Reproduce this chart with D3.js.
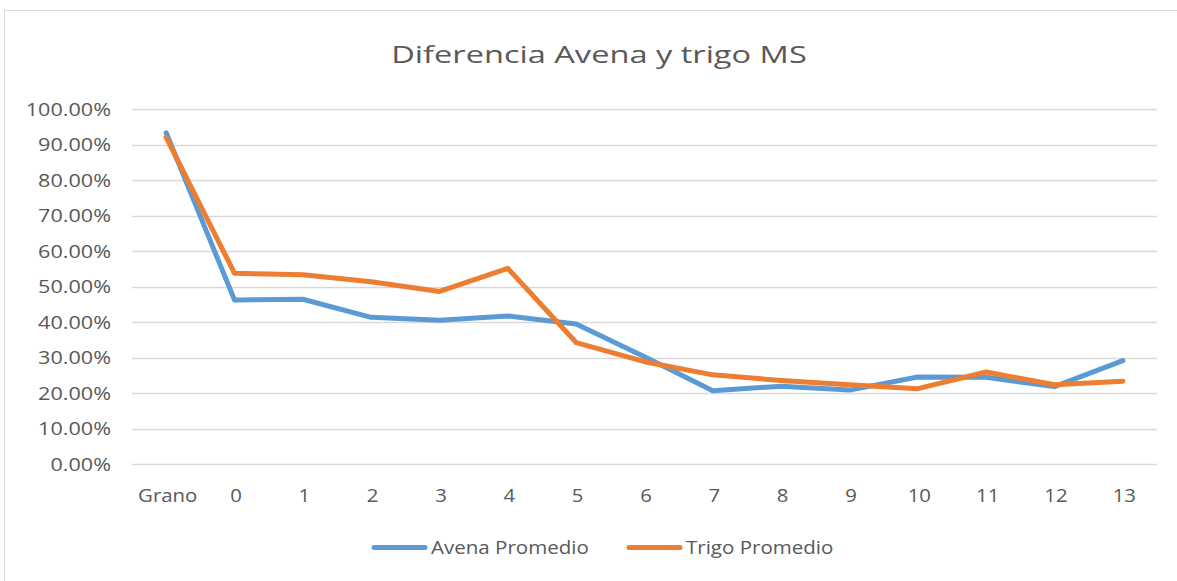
<!DOCTYPE html>
<html>
<head>
<meta charset="utf-8">
<script src="https://cdn.jsdelivr.net/npm/d3@7"></script>
<style>
  body { margin: 0; background: #fff; }
  text { font-family: "Open Sans", sans-serif; fill: #595959; }
</style>
</head>
<body>
<script>
//-----------------Data----------------

const categories = ["Grano", "0", "1", "2", "3", "4", "5", "6", "7", "8", "9", "10", "11", "12", "13"];
const avena = [0.934, 0.463, 0.465, 0.414, 0.406, 0.418, 0.395, 0.303, 0.207, 0.220, 0.209, 0.246, 0.245, 0.219, 0.292];
const trigo = [0.921, 0.538, 0.534, 0.514, 0.487, 0.552, 0.343, 0.289, 0.252, 0.236, 0.224, 0.213, 0.260, 0.224, 0.234];
const yTicks = [0, 0.1, 0.2, 0.3, 0.4, 0.5, 0.6, 0.7, 0.8, 0.9, 1.0];
const seriesNames = ["Avena Promedio", "Trigo Promedio"];
const colors = ["#5B9BD5", "#ED7D31"];

//-----------------Svg----------------

const width = 1177;
const height = 581;
const plotLeft = 132, plotRight = 1157, plotTop = 109.3, plotBottom = 464.3;

const svg = d3.select("body").append("svg").attr("width", width).attr("height", height);

svg.append("rect")
  .attr("x", 4.5).attr("y", 10.5)
  .attr("width", width + 10).attr("height", height + 10)
  .attr("fill", "#fff").attr("stroke", "#d9d9d9").attr("stroke-width", 1);

// text is a bit stretched horizontally in the original, sx does that
function label(x, y, txt, size, anchor, sx) {
  return svg.append("text")
    .attr("transform", "translate(" + x + "," + y + ") scale(" + sx + ",1)")
    .attr("text-anchor", anchor)
    .style("font-size", size + "px")
    .text(txt);
}

//-----------------Title----------------

label(599, 63, "Diferencia Avena y trigo MS", 24.5, "middle", 1.33);

//-----------------Scales----------------

const xScale = d3.scaleBand().domain(categories).range([plotLeft, plotRight]);
const yScale = d3.scaleLinear().domain([0, 1]).range([plotBottom, plotTop]);

//-----------------Grid + axes----------------

svg.append("g")
  .selectAll("line")
  .data(yTicks)
  .enter()
  .append("line")
  .attr("x1", plotLeft).attr("x2", plotRight)
  .attr("y1", (d) => Math.round(yScale(d)) + 0.5)
  .attr("y2", (d) => Math.round(yScale(d)) + 0.5)
  .attr("stroke", "#d9d9d9")
  .attr("stroke-width", 1.3);

yTicks.forEach((t) => {
  label(111, yScale(t) + 6.5, (t * 100).toFixed(2) + "%", 18, "end", 1.2);
});

categories.forEach((c) => {
  label(xScale(c) + xScale.bandwidth() / 2 + 1.5, 501.5, c, 18.5, "middle", 1.1);
});

//-----------------Lines----------------

const line = d3.line()
  .x((d, i) => xScale(categories[i]) + xScale.bandwidth() / 2)
  .y((d) => yScale(d));

[avena, trigo].forEach((s, i) => {
  svg.append("path")
    .datum(s)
    .attr("d", line)
    .attr("fill", "none")
    .attr("stroke", colors[i])
    .attr("stroke-width", 5)
    .attr("stroke-linejoin", "round")
    .attr("stroke-linecap", "round");
});

//-----------------Legend----------------

const legendX = [372, 627];
seriesNames.forEach((name, i) => {
  svg.append("line")
    .attr("x1", legendX[i] + 2).attr("x2", legendX[i] + 53)
    .attr("y1", 547.5).attr("y2", 547.5)
    .attr("stroke", colors[i])
    .attr("stroke-width", 5)
    .attr("stroke-linecap", "round");
  label(legendX[i] + 59, 554, name, 18.5, "start", 1.11);
});
</script>
</body>
</html>
